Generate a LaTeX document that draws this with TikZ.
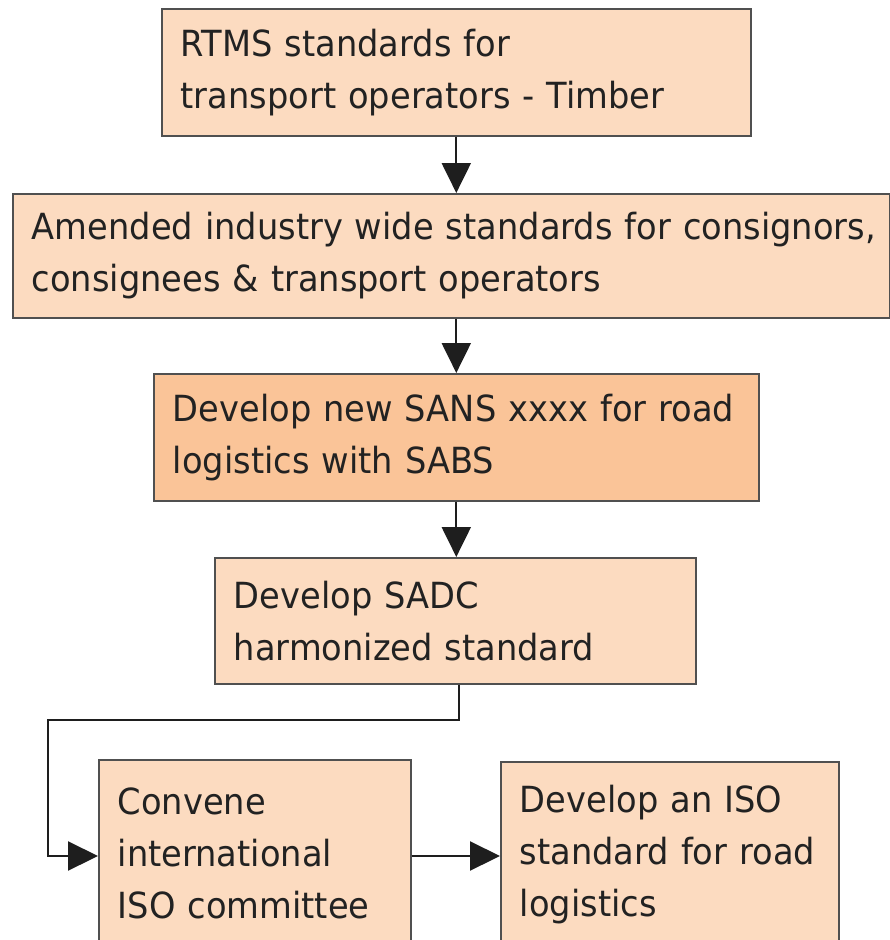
\documentclass[tikz,border=0pt]{standalone}
\usepackage{fontspec}
\setmainfont{DejaVu Sans}[FakeStretch=0.935]
\usetikzlibrary{arrows.meta}
\definecolor{peach}{RGB}{252,219,192}
\definecolor{peachdark}{RGB}{250,196,152}
\definecolor{boxline}{RGB}{80,80,80}
\definecolor{arrowc}{RGB}{30,30,30}
\definecolor{txt}{RGB}{34,34,34}
\tikzset{
  stepbox/.style={draw=boxline, line width=1.6pt, fill=peach, anchor=north west,
    inner xsep=19pt, inner ysep=0pt, align=left, text=txt,
    font=\fontsize{36}{52}\selectfont},
  arr/.style={draw=arrowc, line width=2.2pt, -{Triangle[length=30pt,width=29pt]}}
}
\begin{document}
\begin{tikzpicture}[x=1pt,y=-1pt]
\useasboundingbox (0,0) rectangle (890,940);
\clip (0,0) rectangle (890,940);
\node[stepbox, text width=551pt, minimum height=127pt] (B1) at (161,8)
  {\mbox{RTMS standards for}\\\mbox{transport operators - Timber}};
\node[stepbox, text width=839pt, minimum height=124pt] (B2) at (12,193)
  {\mbox{Amended industry wide standards for consignors,}\\\mbox{consignees \& transport operators}};
\node[stepbox, fill=peachdark, text width=567pt, minimum height=127pt] (B3) at (153,373)
  {\mbox{Develop new SANS xxxx for road}\\\mbox{logistics with SABS}};
\node[stepbox, text width=443pt, minimum height=126pt] (B4) at (214,557)
  {\mbox{Develop SADC}\\\mbox{harmonized standard}};
\node[stepbox, text width=274pt, minimum height=187pt] (B5) at (98,759)
  {\mbox{Convene}\\\mbox{international}\\\mbox{ISO committee}};
\node[stepbox, text width=300pt, minimum height=185pt] (B6) at (500,761)
  {\mbox{Develop an ISO}\\\mbox{standard for road}\\\mbox{logistics}};
\coordinate (t) at (459,720);
\coordinate (c) at (48,720);
\coordinate (k) at (48,856);
\draw[arr] (B1.south) -- (B1.south |- B2.north);
\draw[arr] (B3.north |- B2.south) -- (B3.north);
\draw[arr] (B3.south) -- (B3.south |- B4.north);
\draw[arr] (B4.south -| t) -- (t) -- (c) -- (k) -- (k -| B5.west);
\draw[arr] (k -| B5.east) -- (k -| B6.west);
\end{tikzpicture}
\end{document}
